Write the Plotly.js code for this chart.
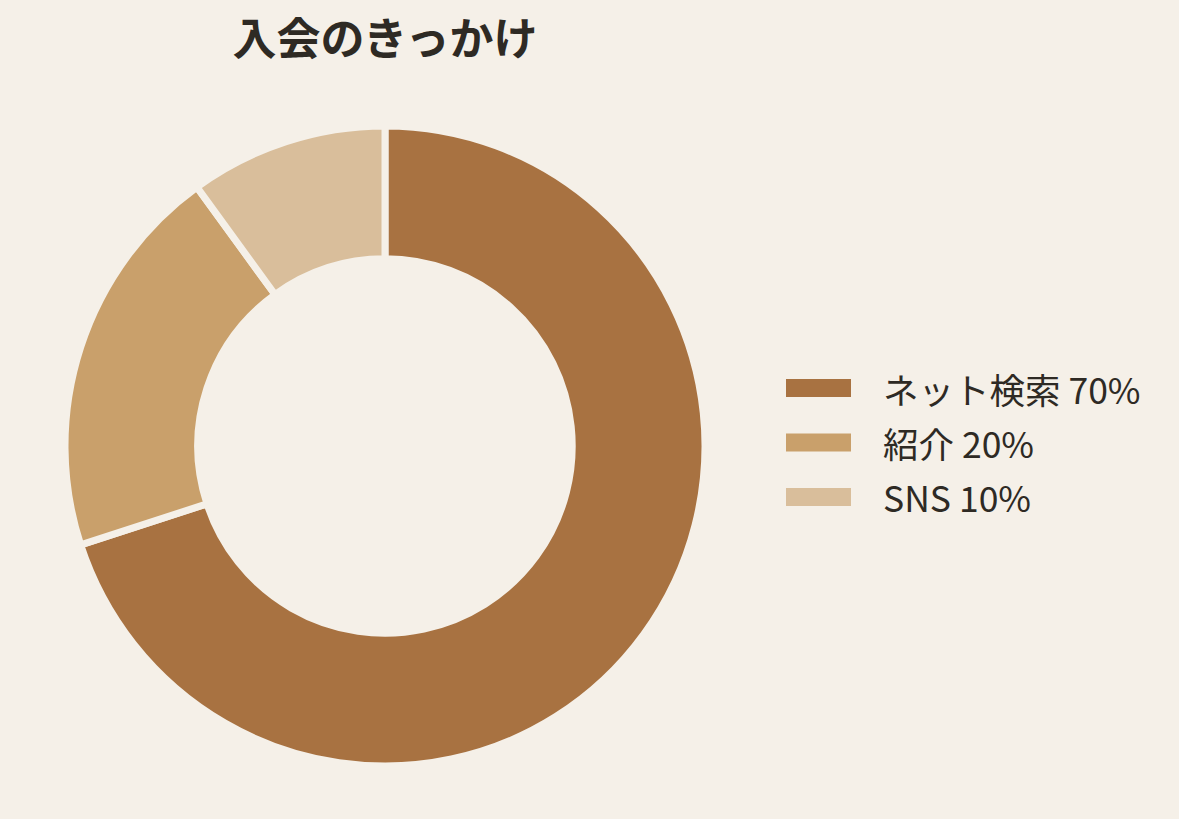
<!DOCTYPE html>
<html>
<head>
<meta charset="utf-8">
<script src="https://cdn.plot.ly/plotly-3.0.1.min.js"></script>
<style>
  html, body { margin: 0; padding: 0; background: #f5f0e8; }
  #chart { width: 1179px; height: 819px; }
</style>
</head>
<body>
<div id="chart"></div>
<script>
    'use strict';

    const W = 1179, H = 819;
    const BG = '#f5f0e8';
    const FONT = '"Noto Sans CJK JP", "Noto Sans", sans-serif';

    // data
    const labels = ['ネット検索', '紹介', 'SNS'];
    const values = [70, 20, 10];
    const colors = ['#a87241', '#c9a06b', '#d9be9b'];

    // pixel helpers (margins are zero, so paper == page)
    const px = x => x / W;
    const py = y => 1 - y / H;

    const pie = {
        type: 'pie',
        labels: labels,
        values: values,
        hole: 0.585,
        sort: false,
        direction: 'clockwise',
        rotation: 0,
        textinfo: 'none',
        showlegend: false,
        marker: {
            colors: colors,
            line: { color: BG, width: 7 }
        },
        domain: { x: [px(65), px(705)], y: [1 - 766 / H, 1 - 126 / H] }
    };

    // hand drawn legend: wide swatches + labels with percentages
    const total = values.reduce((a, b) => a + b, 0);
    const shapes = [];
    const annotations = [];
    labels.forEach((lab, i) => {
        const yc = 388 + i * 54.5;
        shapes.push({
            type: 'rect', xref: 'paper', yref: 'paper',
            x0: px(786), x1: px(851), y0: py(yc + 9), y1: py(yc - 9),
            fillcolor: colors[i], line: { width: 0 }
        });
        annotations.push({
            xref: 'paper', yref: 'paper',
            x: px(881), y: py(yc), xanchor: 'left', yanchor: 'middle',
            text: lab + ' ' + Math.round(values[i] / total * 100) + '%',
            showarrow: false,
            font: { family: FONT, size: 35.5, color: '#2e2a24' }
        });
    });

    const layout = {
        width: W,
        height: H,
        margin: { l: 0, r: 0, t: 0, b: 0 },
        paper_bgcolor: BG,
        plot_bgcolor: BG,
        title: {
            text: '<b>入会のきっかけ</b>',
            x: px(385), xanchor: 'center', xref: 'paper',
            y: py(40), yanchor: 'middle', yref: 'container',
            font: { family: FONT, size: 44, color: '#2e2a24' }
        },
        shapes: shapes,
        annotations: annotations
    };

    Plotly.newPlot('chart', [pie], layout, { displayModeBar: false, staticPlot: true });
</script>
</body>
</html>
